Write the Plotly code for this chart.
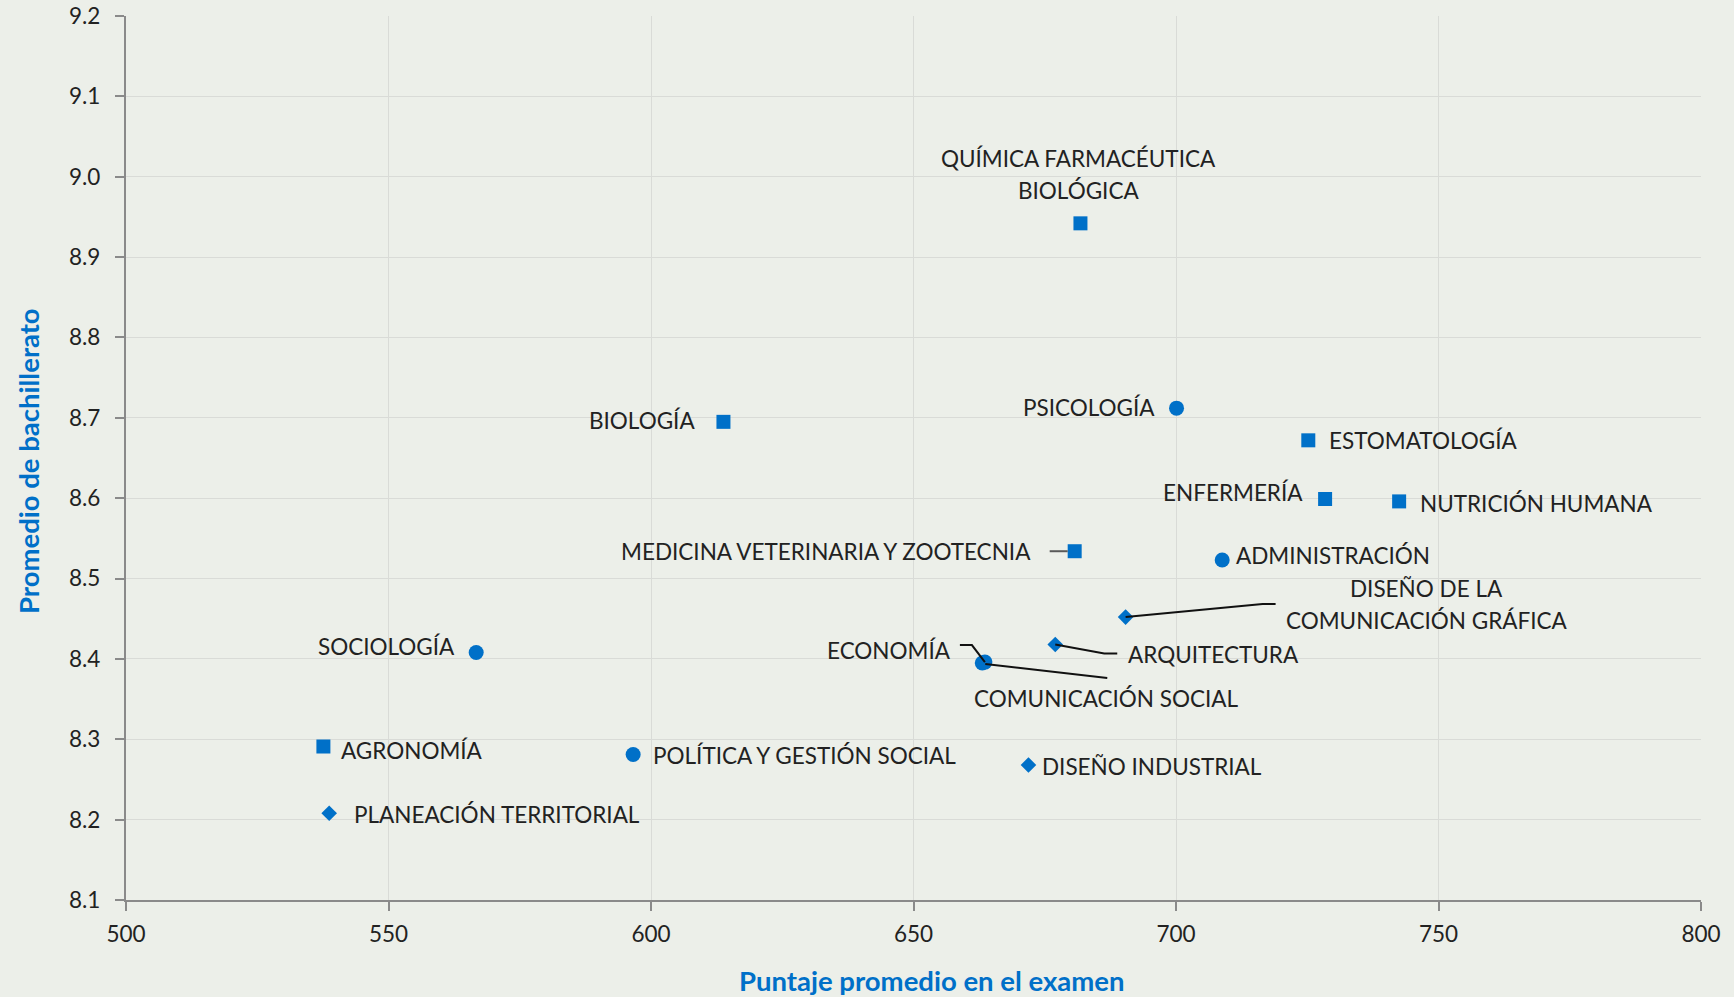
import plotly.graph_objects as go

# ---------------- data ----------------
# Ciencias Biológicas y de la Salud (squares)
cbs_carreras = ["QUÍMICA FARMACÉUTICA<br>BIOLÓGICA", "BIOLOGÍA", "ESTOMATOLOGÍA", "ENFERMERÍA",
                "NUTRICIÓN HUMANA", "MEDICINA VETERINARIA Y ZOOTECNIA", "AGRONOMÍA"]
cbs_puntaje = [681.8, 613.8, 725.2, 728.4, 742.5, 680.7, 537.6]
cbs_promedio = [8.942, 8.695, 8.672, 8.599, 8.596, 8.534, 8.291]

# Ciencias Sociales y Humanidades (circles)
csh_carreras = ["PSICOLOGÍA", "ADMINISTRACIÓN", "ECONOMÍA", "COMUNICACIÓN SOCIAL",
                "SOCIOLOGÍA", "POLÍTICA Y GESTIÓN SOCIAL"]
csh_puntaje = [700.1, 708.8, 663.6, 663.1, 566.7, 596.6]
csh_promedio = [8.712, 8.523, 8.396, 8.395, 8.408, 8.281]

# Ciencias y Artes para el Diseño (diamonds)
cyad_carreras = ["DISEÑO DE LA<br>COMUNICACIÓN GRÁFICA", "ARQUITECTURA",
                 "PLANEACIÓN TERRITORIAL", "DISEÑO INDUSTRIAL"]
cyad_puntaje = [690.4, 677.0, 538.7, 671.9]
cyad_promedio = [8.452, 8.418, 8.208, 8.268]

x_ticks = [500, 550, 600, 650, 700, 750, 800]
y_ticks = [8.1, 8.2, 8.3, 8.4, 8.5, 8.6, 8.7, 8.8, 8.9, 9.0, 9.1, 9.2]

x_title = "Puntaje promedio en el examen"
y_title = "Promedio de bachillerato"

# ---------------- styles / label placement (pixels) ----------------
BLUE = "#0070C8"
BG = "#ECEFE9"
TXT = "#222222"
FONT = "Lato"
LABEL_SIZE = 22.5

# (xanchor, dx, [dy per line]) ; dy positive = down
placement = {
    "QUÍMICA FARMACÉUTICA<br>BIOLÓGICA": ("center", -2, [-65, -33]),
    "BIOLOGÍA": ("right", -26, [-1]),
    "ESTOMATOLOGÍA": ("left", 19, [0]),
    "ENFERMERÍA": ("right", -20, [-6]),
    "NUTRICIÓN HUMANA": ("left", 19, [2]),
    "MEDICINA VETERINARIA Y ZOOTECNIA": ("right", -42, [0]),
    "AGRONOMÍA": ("left", 16, [4]),
    "PSICOLOGÍA": ("right", -20, [-1]),
    "ADMINISTRACIÓN": ("left", 12, [-5]),
    "ECONOMÍA": ("right", -32, [-12]),
    "COMUNICACIÓN SOCIAL": ("center", 124, [36]),
    "SOCIOLOGÍA": ("right", -19, [-6]),
    "POLÍTICA Y GESTIÓN SOCIAL": ("left", 18, [1]),
    "DISEÑO DE LA<br>COMUNICACIÓN GRÁFICA": ("center", 301, [-29, 3]),
    "ARQUITECTURA": ("left", 71, [10]),
    "PLANEACIÓN TERRITORIAL": ("left", 23, [1]),
    "DISEÑO INDUSTRIAL": ("left", 12, [2]),
}

# leader lines: path in pixels relative to the point (y up)
leaders = {
    "MEDICINA VETERINARIA Y ZOOTECNIA": ("M -25 0 L -7 0", "#595959"),
    "DISEÑO DE LA<br>COMUNICACIÓN GRÁFICA": ("M 0 0 L 137 13 L 150 13", "#111111"),
    "ARQUITECTURA": ("M 0 0 L 49 -9 L 62 -9", "#111111"),
    "ECONOMÍA": ("M 0 0 L -13 17 L -25 17", "#111111"),
    "COMUNICACIÓN SOCIAL": ("M 3 -1 L 125 -15", "#111111"),
}

fig = go.Figure()
series = [
    ("CBS", cbs_carreras, cbs_puntaje, cbs_promedio, "square", 14),
    ("CSH", csh_carreras, csh_puntaje, csh_promedio, "circle", 15),
    ("CyAD", cyad_carreras, cyad_puntaje, cyad_promedio, "diamond", 12),
]
annotations = []
shapes = []
for name, labels, xs, ys, sym, size in series:
    fig.add_trace(go.Scatter(
        x=xs, y=ys, mode="markers", name=name, text=labels,
        marker=dict(symbol=sym, size=size, color=BLUE, line=dict(width=0)),
        hoverinfo="text+x+y",
    ))
    for lab, x, y in zip(labels, xs, ys):
        anchor, dx, dys = placement[lab]
        for line, dy in zip(lab.split("<br>"), dys):
            annotations.append(dict(
                x=x, y=y, xref="x", yref="y", text=line, showarrow=False,
                xanchor=anchor, yanchor="middle", xshift=dx, yshift=-dy,
                font=dict(family=FONT, size=LABEL_SIZE, color=TXT),
            ))
        if lab in leaders:
            path, col = leaders[lab]
            shapes.append(dict(
                type="path", xref="x", yref="y", xsizemode="pixel", ysizemode="pixel",
                xanchor=x, yanchor=y, path=path,
                line=dict(color=col, width=2), layer="above",
            ))

# axis titles
annotations.append(dict(
    x=0.5, y=0, xref="paper", yref="paper", text=f"<b>{x_title}</b>", showarrow=False,
    xanchor="center", yanchor="middle", xshift=18, yshift=-80,
    font=dict(family=FONT, size=27.5, color=BLUE),
))
annotations.append(dict(
    x=0, y=0.5, xref="paper", yref="paper", text=f"<b>{y_title}</b>", showarrow=False,
    xanchor="center", yanchor="middle", xshift=-98, yshift=-3, textangle=-90,
    font=dict(family=FONT, size=27.5, color=BLUE),
))

axis_common = dict(
    showgrid=True, gridcolor="#D9DBD7", gridwidth=1.3,
    showline=True, linecolor="#8A8A8A", linewidth=2.2,
    ticks="outside", ticklen=9, tickwidth=2, tickcolor="#8A8A8A",
    tickfont=dict(family=FONT, size=22.5, color=TXT),
    zeroline=False, automargin=False,
)

fig.update_layout(
    width=1734, height=997,
    paper_bgcolor=BG, plot_bgcolor=BG,
    showlegend=False,
    margin=dict(l=126, r=33, t=16, b=97),
    xaxis=dict(range=[500, 800], tickvals=x_ticks, ticktext=[str(v) for v in x_ticks],
               ticklabelstandoff=4, **axis_common),
    yaxis=dict(range=[8.1, 9.2], tickvals=y_ticks, ticktext=[f"{v:.1f}" for v in y_ticks],
               ticklabelstandoff=10, **axis_common),
    annotations=annotations,
    shapes=shapes,
)

fig.write_html("out.html", config={"displayModeBar": False},
               post_script="document.body.style.margin='0';document.body.style.overflow='hidden';")
